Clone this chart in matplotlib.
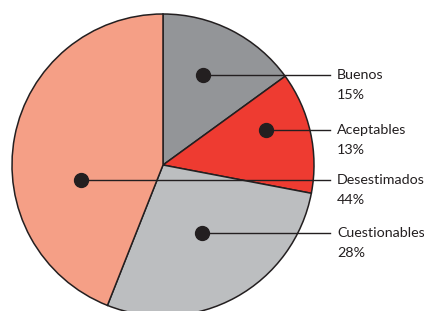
import numpy as np
import matplotlib.pyplot as plt

# data
labels = ["Buenos", "Aceptables", "Cuestionables", "Desestimados"]
values = [15, 13, 28, 44]
colors = ["#939598", "#ee3b31", "#bcbec0", "#f59f86"]

# annotation layout: dot angle (deg) and radius fraction per wedge
dot_ang = [66, 19, -60, 190.5]
dot_rad = [0.65, 0.72, 0.52, 0.55]
# order of the labels on the right (top to bottom)
label_order = ["Buenos", "Aceptables", "Desestimados", "Cuestionables"]

ink = "#231f20"
cx, cy, R = 163, 146, 151

fig = plt.figure(figsize=(4.24, 3.11), dpi=100)
ax = fig.add_axes([0, 0, 1, 1])

ax.pie(values, colors=colors, startangle=90, counterclock=False,
       center=(cx, cy), radius=R,
       wedgeprops=dict(edgecolor=ink, linewidth=1.1))

ax.set_xlim(0, 424)
ax.set_ylim(0, 311)
ax.set_aspect("equal")
ax.axis("off")

line_end = 330
text_x = 337
for name in label_order:
    i = labels.index(name)
    a = np.radians(dot_ang[i])
    x = cx + R * dot_rad[i] * np.cos(a)
    y = cy + R * dot_rad[i] * np.sin(a)
    ax.plot([x, line_end], [y, y], color=ink, lw=1.0, zorder=5)
    ax.plot(x, y, "o", color=ink, ms=10, zorder=6)
    ax.text(text_x, y, name, fontsize=10.3, family="Lato", color=ink,
            va="center", ha="left")
    ax.text(text_x, y - 20, f"{values[i]}%", fontsize=10.3, family="Lato",
            color=ink, va="center", ha="left")

fig.savefig("out.png", dpi=100)
